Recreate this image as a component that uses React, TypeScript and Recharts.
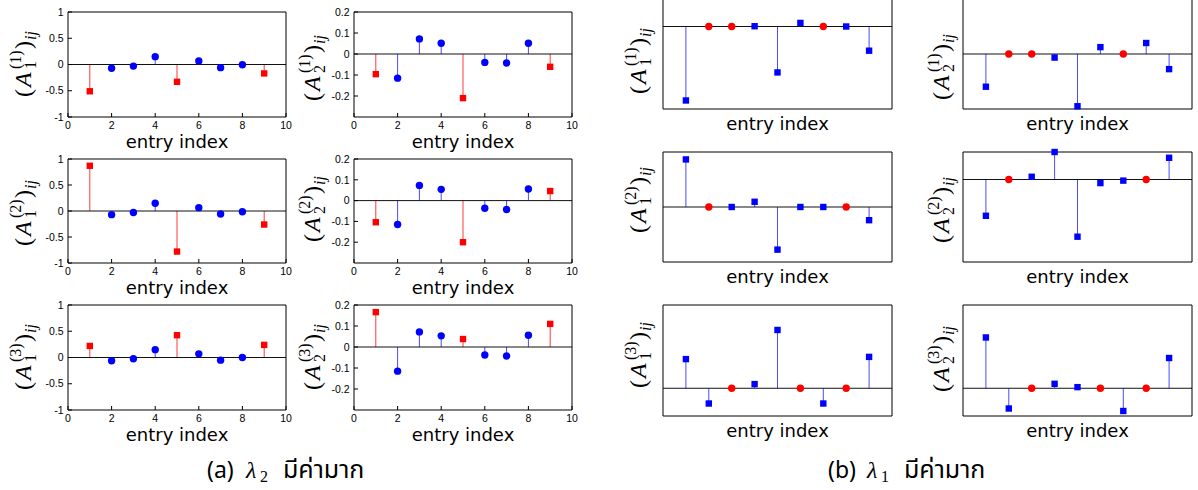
import React from 'react';
import { ComposedChart, XAxis, YAxis, Scatter, ReferenceLine } from 'recharts';

// Entry positions along the horizontal axis
const entryIndex = [1, 2, 3, 4, 5, 6, 7, 8, 9];
const xTicks = [0, 2, 4, 6, 8, 10];

// ---- (a) λ2 dominant: entries of A1 and A2 for the three cases ----
const kindsA = ['rs', 'bc', 'bc', 'bc', 'rs', 'bc', 'bc', 'bc', 'rs'];
const a1Case1 = [-0.51, -0.07, -0.03, 0.15, -0.33, 0.067, -0.06, -0.005, -0.17];
const a2Case1 = [-0.096, -0.115, 0.072, 0.051, -0.21, -0.04, -0.043, 0.051, -0.061];
const a1Case2 = [0.87, -0.07, -0.03, 0.15, -0.78, 0.064, -0.058, -0.013, -0.26];
const a2Case2 = [-0.104, -0.115, 0.073, 0.054, -0.2, -0.037, -0.043, 0.056, 0.046];
const a1Case3 = [0.22, -0.063, -0.025, 0.15, 0.425, 0.07, -0.05, 0.0, 0.24];
const a2Case3 = [0.166, -0.115, 0.072, 0.053, 0.038, -0.038, -0.043, 0.056, 0.11];
const yTicksA1 = [-1, -0.5, 0, 0.5, 1];
const yTicksA2 = [-0.2, -0.1, 0, 0.1, 0.2];

// ---- (b) λ1 dominant (unlabelled scale, one unit per tick) ----
const kindsB1 = ['bs', 'rc', 'rc', 'bs', 'bs', 'bs', 'rc', 'bs', 'bs'];
const kindsB2 = ['bs', 'rc', 'bs', 'bs', 'bs', 'bs', 'bs', 'rc', 'bs'];
const kindsB3 = ['bs', 'bs', 'rc', 'bs', 'bs', 'rc', 'bs', 'rc', 'bs'];
const b1Case1 = [-2.69, 0, 0, 0.01, -1.67, 0.13, 0, 0.0, -0.88];
const b2Case1 = [-1.19, 0, 0, -0.13, -1.9, 0.25, 0, 0.4, -0.55];
const b1Case2 = [1.73, 0, 0, 0.19, -1.55, 0, 0, 0, -0.48];
const b2Case2 = [-1.32, 0, 0.1, 1.0, -2.08, -0.13, -0.04, 0, 0.79];
const b1Case3 = [1.05, -0.55, 0, 0.15, 2.1, 0, -0.55, 0, 1.13];
const b2Case3 = [1.83, -0.73, 0, 0.16, 0.04, 0, -0.82, 0, 1.09];
const yTicksLow = [-3, -2, -1, 0, 1];
const yTicksMid = [-2, -1, 0, 1, 2];
const yTicksHigh = [-1, 0, 1, 2, 3];

// Caption texts
const captionThai = 'มีค่ามาก';
const captionA = { tag: '(a)', sub: '2' };
const captionB = { tag: '(b)', sub: '1' };

const RED = '#ff0000';
const BLUE = '#0000ff';
const RED_STEM = '#ff3a3a';
const BLUE_STEM = '#4a4aff';

type Box = { x: number; y: number; w: number; h: number };
type Panel = {
  values: number[];
  kinds: string[];
  domain: [number, number];
  ticks: number[];
  labeled: boolean;
  box: Box;
  sub: string;
  sup: string;
  labelX: number;
  labelCy: number;
};

const colA = [68, 354];
const colB = [663, 963];
const rowA = [12, 159, 305];
const rowB = [-1.5, 152.3, 305];

const panels: Panel[] = [
  { values: a1Case1, kinds: kindsA, domain: [-1, 1], ticks: yTicksA1, labeled: true, box: { x: colA[0], y: rowA[0], w: 218, h: 105 }, sub: '1', sup: '1', labelX: 31, labelCy: 62 },
  { values: a2Case1, kinds: kindsA, domain: [-0.3, 0.2], ticks: yTicksA2, labeled: true, box: { x: colA[1], y: rowA[0], w: 218, h: 105 }, sub: '2', sup: '1', labelX: 320, labelCy: 66 },
  { values: a1Case2, kinds: kindsA, domain: [-1, 1], ticks: yTicksA1, labeled: true, box: { x: colA[0], y: rowA[1], w: 218, h: 104 }, sub: '1', sup: '2', labelX: 31, labelCy: 211 },
  { values: a2Case2, kinds: kindsA, domain: [-0.3, 0.2], ticks: yTicksA2, labeled: true, box: { x: colA[1], y: rowA[1], w: 218, h: 104 }, sub: '2', sup: '2', labelX: 320, labelCy: 207 },
  { values: a1Case3, kinds: kindsA, domain: [-1, 1], ticks: yTicksA1, labeled: true, box: { x: colA[0], y: rowA[2], w: 218, h: 105 }, sub: '1', sup: '3', labelX: 31, labelCy: 355 },
  { values: a2Case3, kinds: kindsA, domain: [-0.3, 0.2], ticks: yTicksA2, labeled: true, box: { x: colA[1], y: rowA[2], w: 218, h: 105 }, sub: '2', sup: '3', labelX: 320, labelCy: 355 },
  { values: b1Case1, kinds: kindsB1, domain: [-3, 1], ticks: yTicksLow, labeled: false, box: { x: colB[0], y: rowB[0], w: 229, h: 110 }, sub: '1', sup: '1', labelX: 646, labelCy: 59 },
  { values: b2Case1, kinds: kindsB1, domain: [-2, 2], ticks: yTicksMid, labeled: false, box: { x: colB[1], y: rowB[0], w: 229, h: 110 }, sub: '2', sup: '1', labelX: 949, labelCy: 65 },
  { values: b1Case2, kinds: kindsB2, domain: [-2, 2], ticks: yTicksMid, labeled: false, box: { x: colB[0], y: rowB[1], w: 229, h: 110 }, sub: '1', sup: '2', labelX: 646, labelCy: 198 },
  { values: b2Case2, kinds: kindsB2, domain: [-3, 1], ticks: yTicksLow, labeled: false, box: { x: colB[1], y: rowB[1], w: 229, h: 110 }, sub: '2', sup: '2', labelX: 949, labelCy: 208 },
  { values: b1Case3, kinds: kindsB3, domain: [-1, 3], ticks: yTicksHigh, labeled: false, box: { x: colB[0], y: rowB[2], w: 229, h: 111 }, sub: '1', sup: '3', labelX: 646, labelCy: 353 },
  { values: b2Case3, kinds: kindsB3, domain: [-1, 3], ticks: yTicksHigh, labeled: false, box: { x: colB[1], y: rowB[2], w: 229, h: 111 }, sub: '2', sup: '3', labelX: 949, labelCy: 357 },
];

const tickFont = { fontSize: 10.5, fill: '#000', fontFamily: 'Liberation Sans, Arial, sans-serif' };

const StemMarker = (props: any) => {
  const { cx, cy, payload } = props;
  if (cx == null || cy == null) return null;
  const color = payload.kind[0] === 'r' ? RED : BLUE;
  if (payload.kind[1] === 's') {
    return <rect x={cx - 3.2} y={cy - 3.2} width={6.4} height={6.4} fill={color} />;
  }
  return <circle cx={cx} cy={cy} r={3.7} fill={color} />;
};

function StemPanel({ p }: { p: Panel }) {
  const data = entryIndex.map((x, i) => ({ x, v: p.values[i], kind: p.kinds[i] }));
  const margin = { top: 6, right: 6, left: 4, bottom: 8 };
  const leftW = p.labeled ? 30 : 1;
  const rightW = 1;
  const topH = 1;
  const bottomH = p.labeled ? 31 : 21;
  const width = margin.left + leftW + p.box.w + rightW + margin.right;
  const height = margin.top + topH + p.box.h + bottomH + margin.bottom;
  const left = p.box.x - margin.left - leftW;
  const top = p.box.y - margin.top - topH;
  return (
    <div style={{ position: 'absolute', left, top, width, height }}>
      <ComposedChart width={width} height={height} data={data} margin={margin}>
        <XAxis
          xAxisId="b"
          dataKey="x"
          type="number"
          domain={[0, 10]}
          ticks={xTicks}
          interval={0}
          height={bottomH}
          axisLine={{ stroke: '#000' }}
          tickLine={{ stroke: '#000' }}
          tickSize={-4}
          tickMargin={9}
          tick={p.labeled ? tickFont : false}
          label={{ value: 'entry index', position: 'insideBottom', offset: 0, fontSize: 18, fill: '#000', fontFamily: 'DejaVu Sans, sans-serif' }}
        />
        <XAxis
          xAxisId="t"
          orientation="top"
          type="number"
          dataKey="x"
          domain={[0, 10]}
          ticks={xTicks}
          interval={0}
          height={topH}
          axisLine={{ stroke: '#000' }}
          tickLine={{ stroke: '#000' }}
          tickSize={-4}
          tick={false}
        />
        <YAxis
          yAxisId="l"
          type="number"
          domain={p.domain}
          ticks={p.ticks}
          interval={0}
          width={leftW}
          axisLine={{ stroke: '#000' }}
          tickLine={{ stroke: '#000' }}
          tickSize={-4}
          tickMargin={8.5}
          tick={p.labeled ? tickFont : false}
        />
        <YAxis
          yAxisId="r"
          orientation="right"
          type="number"
          domain={p.domain}
          ticks={p.ticks}
          interval={0}
          width={rightW}
          axisLine={{ stroke: '#000' }}
          tickLine={{ stroke: '#000' }}
          tickSize={-4}
          tick={false}
        />
        {data.map((d) => (
          <ReferenceLine
            key={'s' + d.x}
            xAxisId="b"
            yAxisId="l"
            segment={[{ x: d.x, y: 0 }, { x: d.x, y: d.v }]}
            stroke={d.kind[0] === 'r' ? RED_STEM : BLUE_STEM}
            strokeWidth={1}
          />
        ))}
        <ReferenceLine xAxisId="b" yAxisId="l" y={0} stroke="#111" strokeWidth={1} />
        <Scatter xAxisId="b" yAxisId="l" dataKey="v" shape={StemMarker} isAnimationActive={false} />
      </ComposedChart>
    </div>
  );
}

// Rotated label (A_k^{(n)})_{ij}
function MathLabel({ x, cy, sub, sup }: { x: number; cy: number; sub: string; sup: string }) {
  return (
    <g transform={`translate(${x},${cy}) rotate(-90)`} fontFamily="Liberation Serif, serif" fill="#000">
      <text x={-35} y={0} fontSize={24}>(</text>
      <text x={-25} y={0} fontSize={24} fontStyle="italic">A</text>
      <text x={-7} y={-10} fontSize={16}>({sup})</text>
      <text x={-7} y={5} fontSize={16}>{sub}</text>
      <text x={13} y={0} fontSize={24}>)</text>
      <text x={22} y={5} fontSize={16} fontStyle="italic">ij</text>
    </g>
  );
}

const captionFont = 'Noto Sans Thai, Loma, Garuda, Kinnari, DejaVu Sans, Noto Sans, sans-serif';

function Caption({ x, tag, sub }: { x: number; tag: string; sub: string }) {
  return (
    <g fill="#000">
      <text x={x} y={478} fontSize={23} fontFamily={captionFont}>{tag}</text>
      <text x={x + 39} y={478} fontSize={24} fontStyle="italic" fontFamily="Liberation Serif, serif">λ</text>
      <text x={x + 53} y={482} fontSize={16} fontFamily="Liberation Serif, serif">{sub}</text>
      <text x={x + 76} y={478} fontSize={25} fontFamily={captionFont}>{captionThai}</text>
    </g>
  );
}

export default function App() {
  return (
    <div style={{ position: 'absolute', left: 0, top: 0, width: 1198, height: 490, overflow: 'hidden', background: '#fff' }}>
      {panels.map((p, i) => (
        <StemPanel key={i} p={p} />
      ))}
      <svg width={1198} height={490} style={{ position: 'absolute', left: 0, top: 0, pointerEvents: 'none' }}>
        {panels.map((p, i) => (
          <MathLabel key={i} x={p.labelX} cy={p.labelCy} sub={p.sub} sup={p.sup} />
        ))}
        <Caption x={207} tag={captionA.tag} sub={captionA.sub} />
        <Caption x={828} tag={captionB.tag} sub={captionB.sub} />
      </svg>
    </div>
  );
}
